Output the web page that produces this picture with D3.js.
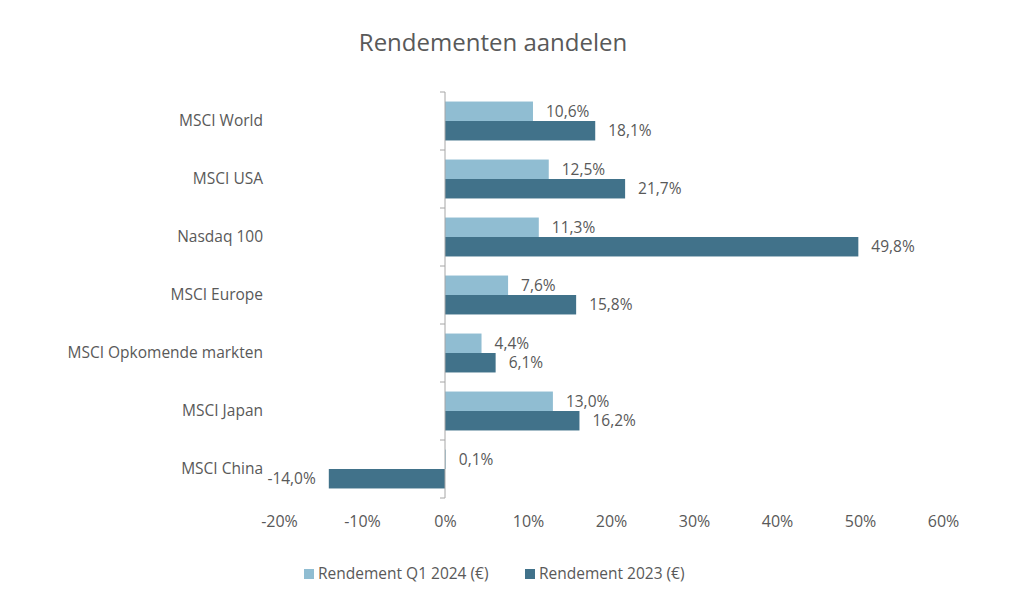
<!DOCTYPE html>
<html><head><meta charset="utf-8">
<script src="https://cdn.jsdelivr.net/npm/d3@7"></script>
<style>body{margin:0;background:#fff;}svg{display:block;font-family:"Open Sans",sans-serif;}</style>
</head><body><svg id="c" width="1024" height="613"></svg>
<script>
const categories = ["MSCI World","MSCI USA","Nasdaq 100","MSCI Europe","MSCI Opkomende markten","MSCI Japan","MSCI China"];
const q1_2024 = [10.6,12.5,11.3,7.6,4.4,13.0,0.1];
const y2023 = [18.1,21.7,49.8,15.8,6.1,16.2,-14.0];
const seriesNames = ["Rendement Q1 2024 (€)","Rendement 2023 (€)"];
const xTicks = [-20,-10,0,10,20,30,40,50,60];
const colors = ["#90bdd2","#41728a"];
const textColor = "#595959";

const svg = d3.select("#c");
const x = d3.scaleLinear().domain([-20,60]).range([279,943]);
const y = d3.scaleBand().domain(categories).range([92,498]).paddingInner(0).paddingOuter(0);
const inner = d3.scaleBand().domain([0,1]).range([0,y.bandwidth()]).paddingInner(0).paddingOuter(0.49);
const fmt = v => v.toFixed(1).replace(".",",") + "%";

svg.append("text").attr("x",493).attr("y",51).attr("text-anchor","middle")
  .attr("font-size",24).attr("fill",textColor).text("Rendementen aandelen");

const series = [q1_2024,y2023];
series.forEach((vals,si)=>{
  const g = svg.append("g");
  g.selectAll("rect").data(vals).join("rect")
    .attr("x",d=>x(Math.min(0,d)))
    .attr("width",d=>Math.max(0.8,Math.abs(x(d)-x(0))))
    .attr("y",(d,i)=>y(categories[i])+inner(si))
    .attr("height",inner.bandwidth())
    .attr("fill",colors[si]);
  g.selectAll("text").data(vals).join("text")
    .attr("x",d=> d<0 ? x(d)-13 : x(d)+13)
    .attr("y",(d,i)=>y(categories[i])+inner(si)+inner.bandwidth()/2)
    .attr("dy","0.35em")
    .attr("text-anchor",d=> d<0 ? "end":"start")
    .attr("font-size",15.5).attr("fill",textColor)
    .text(fmt);
});

// vertical category axis
const ya = svg.append("g").attr("transform",`translate(${x(0)},0)`)
  .call(d3.axisLeft(y).tickSize(0).tickPadding(182).tickFormat(d=>d));
ya.select(".domain").remove();
ya.selectAll("text").attr("font-size",15.5).attr("fill",textColor).attr("font-family","Open Sans");
const bounds = categories.map(c=>y(c)).concat([y.range()[1]]);
svg.append("line").attr("x1",x(0)).attr("x2",x(0)).attr("y1",92).attr("y2",498).attr("stroke","#a6a6a6").attr("stroke-width",1);
svg.selectAll(".tk").data(bounds).join("line").attr("class","tk")
  .attr("x1",x(0)-5).attr("x2",x(0)).attr("y1",d=>d).attr("y2",d=>d)
  .attr("stroke","#a6a6a6");

// x axis labels
const xa = svg.append("g").attr("transform","translate(0,521)")
  .call(d3.axisBottom(x).tickValues(xTicks).tickSize(0).tickPadding(0).tickFormat(d=>d+"%"));
xa.select(".domain").remove();
xa.selectAll("text").attr("font-size",16).attr("fill",textColor).attr("font-family","Open Sans").attr("dy","0.35em");

// legend
const leg = svg.append("g");
const legX = [304,525];
seriesNames.forEach((n,i)=>{
  leg.append("rect").attr("x",legX[i]).attr("y",569).attr("width",10).attr("height",10).attr("fill",colors[i]);
  leg.append("text").attr("x",legX[i]+14).attr("y",574).attr("dy","0.35em").attr("font-size",15.5).attr("fill",textColor).text(n);
});
</script></body></html>
